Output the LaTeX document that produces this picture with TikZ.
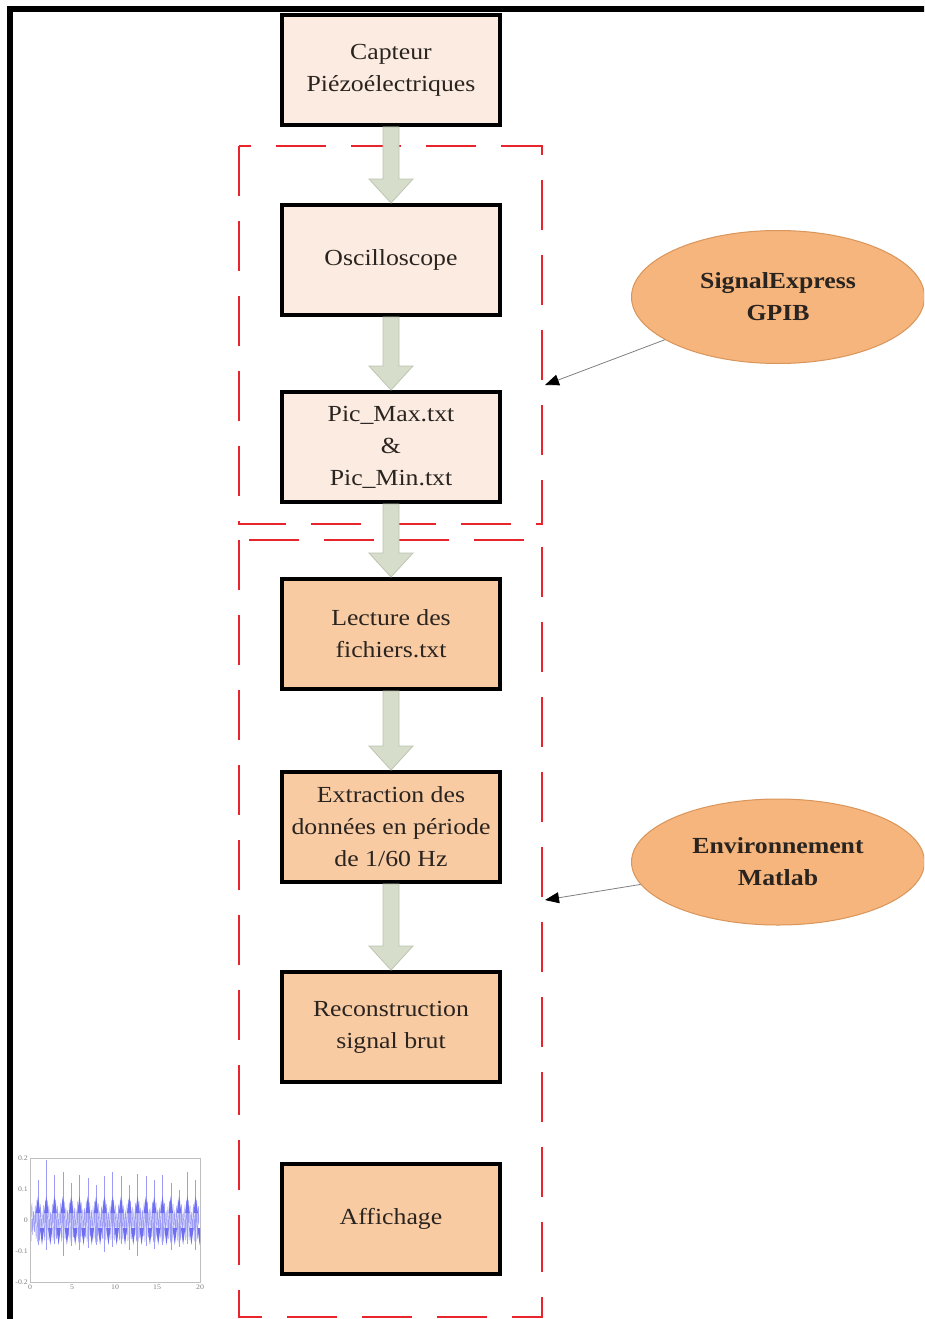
\documentclass[tikz,border=0pt]{standalone}
\usepackage{fontspec}
\setmainfont{Liberation Serif}[FakeStretch=1.12]
\usetikzlibrary{shapes.geometric,calc,arrows.meta}
\definecolor{boxlight}{HTML}{FBEBE0}
\definecolor{boxpeach}{HTML}{F9CBA3}
\definecolor{ellfill}{HTML}{F5B57C}
\definecolor{ellline}{HTML}{D9955A}
\definecolor{arrfill}{HTML}{D6DDCB}
\definecolor{arrline}{HTML}{BCC6B0}
\definecolor{dashred}{HTML}{E8242C}
\definecolor{sigblue}{HTML}{4A4AF0}
\definecolor{txt}{HTML}{2A2420}
\tikzset{
  box/.style={draw, line width=4, minimum width=218, minimum height=110, align=center,
    font=\fontsize{23}{32}\selectfont, text=txt, inner sep=0},
  ell/.style={ellipse, fill=ellfill, draw=ellline, line width=1, align=center,
    font=\bfseries\fontsize{23}{32}\selectfont, text=txt, inner sep=0},
  region/.style={dashred, line width=2.8, dash pattern=on 50 off 25},
  blockarr/.style={fill=arrfill, draw=arrline, line width=0.8},
  thinarr/.style={gray, line width=0.8, -{Triangle[length=14,width=11,color=black]}},
}
\newcommand\blockarrow[2]{%
  \filldraw[blockarr] ($(#1.south)+(-8,0)$) -- ($(#2.north)+(-8,-24)$) -- ($(#2.north)+(-22,-24)$)
    -- (#2.north) -- ($(#2.north)+(22,-24)$) -- ($(#2.north)+(8,-24)$) -- ($(#1.south)+(8,0)$) -- cycle;}
\begin{document}
\begin{tikzpicture}[x=1pt,y=-1pt]
\useasboundingbox (0,0) rectangle (924,1319);
\clip (0,0) rectangle (924,1319);
\fill[white] (0,0) rectangle (924,1319);
% frame
\draw[line width=6] (10,1330) -- (10,9) -- (940,9);
% regions
\draw[region] (239,146) rectangle (542,524);
\draw[region] (239,540) rectangle (542,1317);
% boxes
\node[box, fill=boxlight] (capteur) at (391,70) {Capteur\\Piézoélectriques};
\node[box, fill=boxlight] (osc) at (391,260) {Oscilloscope};
\node[box, fill=boxlight] (pic) at (391,447) {Pic\_Max.txt\\\&\\Pic\_Min.txt};
\node[box, fill=boxpeach] (lect) at (391,634) {Lecture des\\fichiers.txt};
\node[box, fill=boxpeach] (extr) at (391,827) {Extraction des\\données en période\\de 1/60 Hz};
\node[box, fill=boxpeach] (recon) at (391,1027) {Reconstruction\\signal brut};
\node[box, fill=boxpeach] (aff) at (391,1219) {Affichage};
% block arrows
\blockarrow{capteur}{osc}
\blockarrow{osc}{pic}
\blockarrow{pic}{lect}
\blockarrow{lect}{extr}
\blockarrow{extr}{recon}
% ellipses
\node[ell, minimum width=293, minimum height=133] (sig) at (778,297) {SignalExpress\\GPIB};
\node[ell, minimum width=293, minimum height=126] (env) at (778,862) {Environnement\\Matlab};
\coordinate (t1) at (545,385);
\coordinate (t2) at (545,900);
\draw[thinarr] (sig) -- (t1);
\draw[thinarr] (env) -- (t2);
% small plot
\draw[gray!50, line width=0.8] (30,1158) rectangle (200,1282);
\begin{scope}
\clip (30,1158) rectangle (200,1282);
\draw[sigblue!55, line width=0.45] plot[domain=31:199, samples=900]
  (\x, {1221 + (8+14*abs(cos(mod(\x-38,8.3)*180/8.3)))*sin(mod(\x,1.7)*360/1.7)});
\foreach \i/\u/\d in {0/1180/1245,1/1160/1250,2/1175/1244,3/1172/1256,4/1183/1246,5/1175/1250,
  6/1178/1248,7/1185/1245,8/1176/1252,9/1172/1247,10/1176/1244,11/1185/1250,12/1174/1256,
  13/1176/1246,14/1180/1249,15/1175/1245,16/1183/1250,17/1190/1247,18/1172/1244,19/1180/1250}
  {\draw[sigblue!55, line width=0.6] ({38+8.3*\i},\u) -- ({38+8.3*\i},\d);
   \fill[sigblue!80] ({38+8.3*\i-2.2},1213) -- ({38+8.3*\i},1196) -- ({38+8.3*\i+2.2},1213) -- cycle;
   \fill[sigblue!80] ({38+8.3*\i+1.8},1228) -- ({38+8.3*\i+4},1245) -- ({38+8.3*\i+6.2},1228) -- cycle;}
\end{scope}
\begin{scope}[font=\fontsize{7}{8}\selectfont, text=gray]
\node[anchor=east, inner sep=1] (ya) at (29,1158) {0.2};
\node[anchor=east, inner sep=1] (yb) at (29,1189) {0.1};
\node[anchor=east, inner sep=1] (yc) at (29,1220) {0};
\node[anchor=east, inner sep=1] (yd) at (29,1251) {-0.1};
\node[anchor=east, inner sep=1] (ye) at (29,1282) {-0.2};
\node[anchor=north, inner sep=1] (xa) at (30,1284) {0};
\node[anchor=north, inner sep=1] (xb) at (72,1284) {5};
\node[anchor=north, inner sep=1] (xc) at (115,1284) {10};
\node[anchor=north, inner sep=1] (xd) at (157,1284) {15};
\node[anchor=north, inner sep=1] (xe) at (200,1284) {20};
\end{scope}
\end{tikzpicture}
\end{document}
